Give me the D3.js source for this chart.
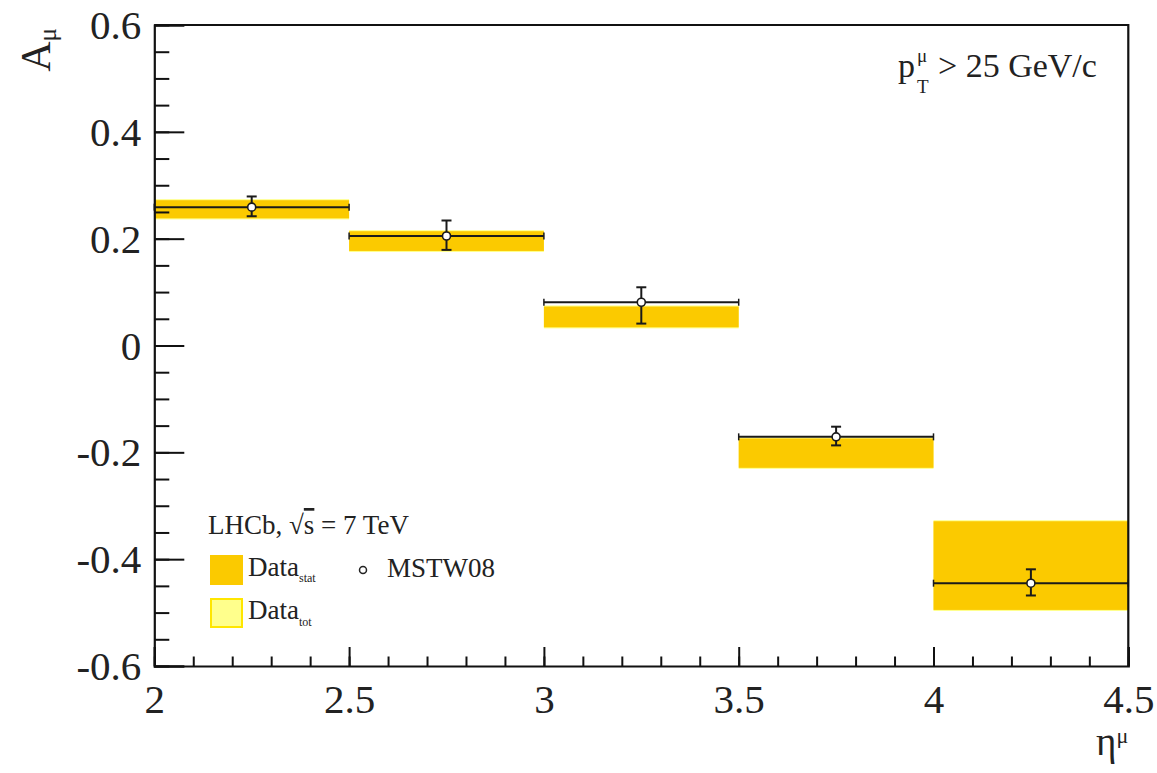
<!DOCTYPE html>
<html>
<head>
<meta charset="utf-8">
<script src="https://cdn.jsdelivr.net/npm/d3@7"></script>
<style>
  body { margin: 0; background: #fff; }
  text { font-family: "Liberation Serif", "DejaVu Serif", serif; fill: #222; }
</style>
</head>
<body>
<div id="chart"></div>
<script>
// bins in eta
const binLo = [2.0, 2.5, 3.0, 3.5, 4.0];
const binHi = [2.5, 3.0, 3.5, 4.0, 4.5];
// measured asymmetry (band centre) with stat and total uncertainty
const dataVal = [0.255, 0.1955, 0.0535, -0.2015, -0.412];
const dataStat = [0.017, 0.0185, 0.0195, 0.0275, 0.083];
const dataTot = [0.019, 0.0205, 0.0215, 0.0295, 0.085];
// MSTW08 prediction
const mstwX = [2.25, 2.75, 3.25, 3.75, 4.25];
const mstwVal = [0.259, 0.205, 0.081, -0.171, -0.445];
const mstwUp = [0.020, 0.029, 0.028, 0.019, 0.026];
const mstwDown = [0.017, 0.026, 0.040, 0.016, 0.023];
// ticks
const xMajor = [2, 2.5, 3, 3.5, 4, 4.5];
const yMajor = [-0.6, -0.4, -0.2, 0, 0.2, 0.4, 0.6];

const W = 1157, H = 773;
const margin = { left: 154.3, right: 28.7, top: 25, bottom: 107 };
const pw = W - margin.left - margin.right;
const ph = H - margin.top - margin.bottom;

const svg = d3.select("#chart").append("svg")
    .attr("width", W).attr("height", H);

const x = d3.scaleLinear().domain([2, 4.5]).range([margin.left, margin.left + pw]);
const y = d3.scaleLinear().domain([-0.6, 0.6]).range([margin.top + ph, margin.top]);

const statColor = "#fbca00";
const totColor = "#ffff8c";

const bins = binLo.map((lo, i) => ({ lo, hi: binHi[i], v: dataVal[i], s: dataStat[i], t: dataTot[i] }));

// total band (behind)
svg.selectAll(".tot").data(bins).enter().append("rect")
    .attr("class", "tot")
    .attr("x", d => x(d.lo)).attr("width", d => x(d.hi) - x(d.lo))
    .attr("y", d => y(d.v + d.t)).attr("height", d => y(d.v - d.t) - y(d.v + d.t))
    .attr("fill", totColor);

// stat band
svg.selectAll(".stat").data(bins).enter().append("rect")
    .attr("class", "stat")
    .attr("x", d => x(d.lo)).attr("width", d => x(d.hi) - x(d.lo))
    .attr("y", d => y(d.v + d.s)).attr("height", d => y(d.v - d.s) - y(d.v + d.s))
    .attr("fill", statColor);

// MSTW08 points
const pts = mstwX.map((cx, i) => ({ cx, lo: binLo[i], hi: binHi[i], v: mstwVal[i], up: mstwUp[i], dn: mstwDown[i] }));
const g = svg.append("g").attr("stroke", "#1a1a1a").attr("fill", "none");

pts.forEach(d => {
    const yy = y(d.v);
    // horizontal bin width
    g.append("line").attr("x1", x(d.lo)).attr("x2", x(d.hi)).attr("y1", yy).attr("y2", yy)
        .attr("stroke-width", 2);
    [d.lo, d.hi].forEach(e => {
        g.append("line").attr("x1", x(e)).attr("x2", x(e)).attr("y1", yy - 3.5).attr("y2", yy + 3.5)
            .attr("stroke-width", 1.5);
    });
    // vertical error
    const yt = y(d.v + d.up), yb = y(d.v - d.dn);
    g.append("line").attr("x1", x(d.cx)).attr("x2", x(d.cx)).attr("y1", yt).attr("y2", yb)
        .attr("stroke-width", 2);
    [yt, yb].forEach(e => {
        g.append("line").attr("x1", x(d.cx) - 5).attr("x2", x(d.cx) + 5).attr("y1", e).attr("y2", e)
            .attr("stroke-width", 2);
    });
    g.append("circle").attr("cx", x(d.cx)).attr("cy", yy).attr("r", 4)
        .attr("fill", "#fff").attr("stroke-width", 1.6);
});

// axes (ticks inward, ROOT style)
const serif = "'Liberation Serif', 'DejaVu Serif', serif";
const fmtY = d => (Math.abs(d) < 1e-9 ? "0" : d3.format(".1f")(d).replace("−", "-"));
const xAxis = svg.append("g").attr("transform", `translate(0,${margin.top + ph})`)
    .call(d3.axisBottom(x).tickValues(xMajor).tickSize(-19).tickPadding(0).tickFormat(d3.format("~g")))
    .attr("font-family", serif);
svg.append("g").attr("transform", `translate(0,${margin.top + ph})`)
    .call(d3.axisBottom(x).tickValues(d3.range(20, 46).map(v => v / 10)).tickSize(-9.5).tickFormat(""))
    .call(a => a.select(".domain").remove());
const yAxis = svg.append("g").attr("transform", `translate(${margin.left},0)`)
    .call(d3.axisLeft(y).tickValues(yMajor).tickSize(-30).tickPadding(0).tickFormat(fmtY))
    .attr("font-family", serif);
svg.append("g").attr("transform", `translate(${margin.left},0)`)
    .call(d3.axisLeft(y).tickValues(d3.range(-12, 13).map(v => v / 20)).tickSize(-15).tickFormat(""))
    .call(a => a.select(".domain").remove());

svg.selectAll(".tick line").attr("stroke", "#111").attr("stroke-width", 2);
svg.selectAll(".domain").attr("stroke", "#111").attr("stroke-width", 2.2);

xAxis.selectAll(".tick text")
    .attr("y", 47).attr("dy", 0)
    .style("font-size", "41px").style("font-family", serif).attr("fill", "#222");
yAxis.selectAll(".tick text")
    .attr("x", -13).attr("dy", "0.33em")
    .style("font-size", "41px").style("font-family", serif).attr("fill", "#222");

// frame top/right
svg.append("path")
    .attr("d", `M${margin.left},${margin.top}H${margin.left + pw}V${margin.top + ph}`)
    .attr("fill", "none").attr("stroke", "#111").attr("stroke-width", 2.2);

// axis titles
const xt = svg.append("text").attr("x", margin.left + pw).attr("y", 755)
    .attr("text-anchor", "end").style("font-size", "39px");
xt.append("tspan").text("η");
xt.append("tspan").text("μ").style("font-size", "22px").attr("dy", -12);

const yt = svg.append("text").attr("transform", `translate(50,28) rotate(-90)`)
    .attr("text-anchor", "end").style("font-size", "42px");
yt.append("tspan").text("A");
yt.append("tspan").text("μ").style("font-size", "25px").attr("dy", 6);

// cut label
svg.append("text").attr("x", 898).attr("y", 77).style("font-size", "34px").text("p");
svg.append("text").attr("x", 917).attr("y", 62).style("font-size", "19px").text("μ");
svg.append("text").attr("x", 917).attr("y", 93).style("font-size", "19px").text("T");
svg.append("text").attr("x", 938).attr("y", 77).style("font-size", "34px").text("> 25 GeV/c");

// legend
const lg = svg.append("text").attr("x", 208).attr("y", 534).style("font-size", "27px");
lg.append("tspan").text("LHCb, √");
lg.append("tspan").text("s").style("text-decoration", "overline");
lg.append("tspan").text(" = 7 TeV");

svg.append("rect").attr("x", 210).attr("y", 555).attr("width", 33).attr("height", 30)
    .attr("fill", statColor);
svg.append("rect").attr("x", 211).attr("y", 599).attr("width", 31).attr("height", 28)
    .attr("fill", totColor).attr("stroke", "#ffe600").attr("stroke-width", 2);

const l1 = svg.append("text").attr("x", 248).attr("y", 576).style("font-size", "27px");
l1.append("tspan").text("Data");
l1.append("tspan").text("stat").style("font-size", "12px").attr("dy", 6);
const l2 = svg.append("text").attr("x", 248).attr("y", 619).style("font-size", "27px");
l2.append("tspan").text("Data");
l2.append("tspan").text("tot").style("font-size", "12px").attr("dy", 7);

svg.append("circle").attr("cx", 363).attr("cy", 570).attr("r", 3.5)
    .attr("fill", "#fff").attr("stroke", "#222").attr("stroke-width", 1.5);
svg.append("text").attr("x", 387).attr("y", 577).style("font-size", "27px").text("MSTW08");
</script>
</body>
</html>
